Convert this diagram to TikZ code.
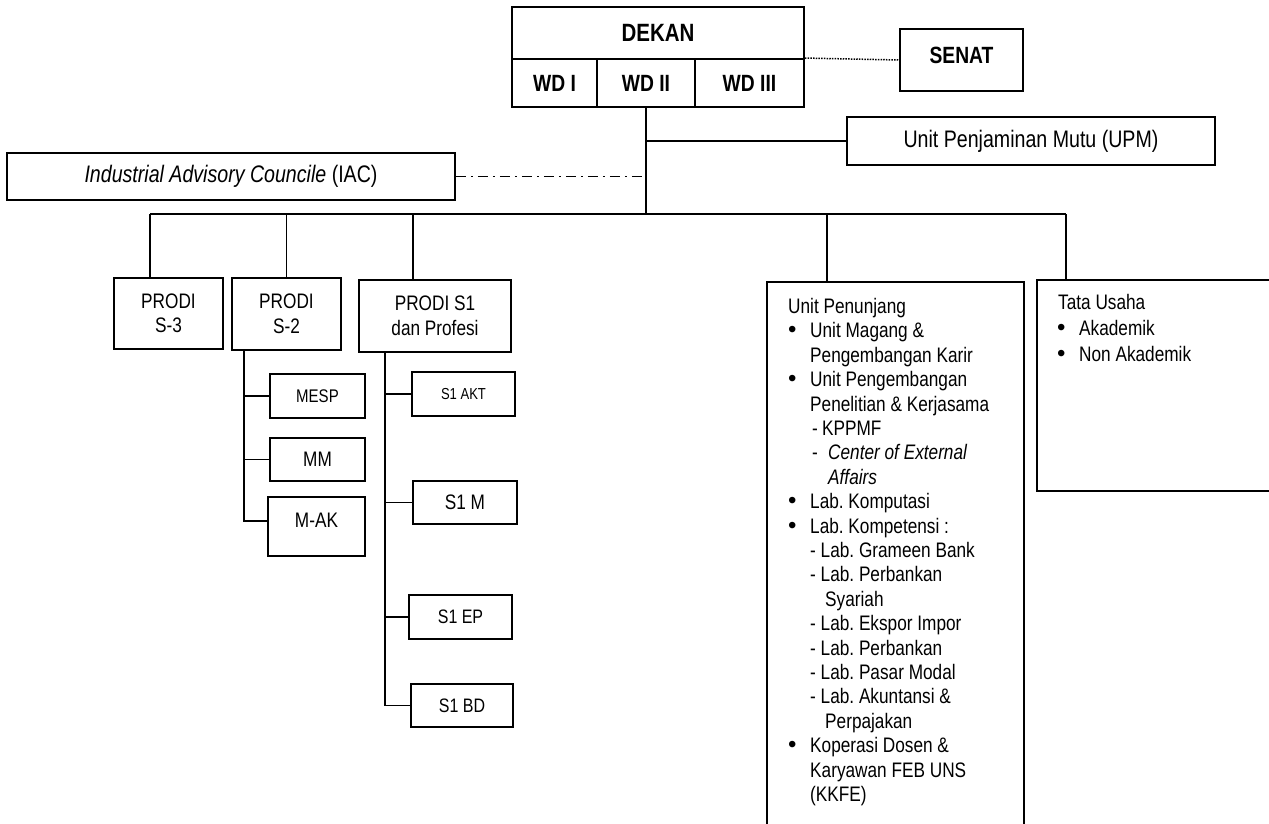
\documentclass[tikz,border=0pt]{standalone}
\usepackage{fontspec}
\setmainfont{Liberation Sans}[FakeStretch=0.82]
\newfontfamily\bulfont{Liberation Sans}
\newcommand\bulglyph{{\bulfont\fontsize{24}{24}\selectfont\textbullet}}
\newcommand\upbul{\makebox[22pt][l]{\hspace*{0pt}\bulglyph}}
\newcommand\upind{\hspace*{22pt}}
\newcommand\tubul{\makebox[21pt][l]{\hspace*{-1pt}\bulglyph}}
\frenchspacing
\begin{document}
\begin{tikzpicture}[x=1pt,y=-1pt,
  box/.style={draw, line width=1.9pt, inner sep=0pt, align=center},
  conn/.style={draw, line width=1.9pt},
  dotline/.style={draw, line width=1.5pt, dash pattern=on 1.5pt off 1.2pt},
  dashdotline/.style={draw, line width=1.9pt, dash pattern=on 10pt off 5pt on 2pt off 5pt},
  boldtxt/.style={font=\bfseries\fontsize{23.5}{26}\selectfont},
  bigtxt/.style={font=\fontsize{23.9}{26}\selectfont},
  midtxt/.style={font=\fontsize{21}{24.5}\selectfont}]
\useasboundingbox (0,0) rectangle (1269,823);
\fill[white] (0,0) rectangle (1269,823);
\clip (0,0) rectangle (1269,823);

% top block
\node[box, font=\bfseries\fontsize{25}{28}\selectfont, minimum width=292pt, minimum height=52pt] (dekan) at (658,33) {DEKAN};
\node[box, boldtxt, minimum width=85pt, minimum height=48pt] (wd1) at (554.5,83) {WD I};
\node[box, boldtxt, minimum width=98pt, minimum height=48pt] (wd2) at (646,83) {WD II};
\node[box, boldtxt, minimum width=109pt, minimum height=48pt] (wd3) at (749.5,83) {WD III};
\node[box, boldtxt, minimum width=123pt, minimum height=62pt] (senat) at (961.5,60) {\raisebox{5pt}[\height][\depth]{SENAT}};
\node[box, bigtxt, minimum width=368pt, minimum height=48pt] (upm) at (1031,141) {Unit Penjaminan Mutu (UPM)};
\node[box, bigtxt, minimum width=448pt, minimum height=47pt] (iac) at (231,176.5) {\textit{Industrial Advisory Councile} (IAC)};

% prodi
\node[box, midtxt, minimum width=109pt, minimum height=71pt] (s3) at (168.5,313.5) {PRODI\\S-3};
\node[box, midtxt, minimum width=109pt, minimum height=72pt] (s2) at (286.5,314) {PRODI\\S-2};
\node[box, midtxt, minimum width=152pt, minimum height=72pt] (s1) at (435,316) {PRODI S1\\dan Profesi};

\node[box, font=\fontsize{18.3}{21}\selectfont, minimum width=95pt, minimum height=44pt] (mesp) at (317.5,396) {MESP};
\node[box, midtxt, minimum width=95pt, minimum height=43pt] (mm) at (317.5,459.5) {MM};
\node[box, midtxt, minimum width=97pt, minimum height=59pt] (mak) at (316.5,526.5) {\raisebox{6pt}[\height][\depth]{M-AK}};

\node[box, font=\fontsize{15.9}{18}\selectfont, minimum width=103pt, minimum height=44pt] (akt) at (463.5,394) {S1 AKT};
\node[box, midtxt, minimum width=104pt, minimum height=43pt] (s1m) at (465,502.5) {S1 M};
\node[box, font=\fontsize{19.5}{22}\selectfont, minimum width=103pt, minimum height=44pt] (s1ep) at (460.5,617) {S1 EP};
\node[box, font=\fontsize{19.5}{22}\selectfont, minimum width=102pt, minimum height=43pt] (s1bd) at (462,705.5) {S1 BD};

% right boxes (run off the page)
\node[box, anchor=north west, minimum width=257pt, minimum height=620pt] (penunjang) at (766,281) {};
\node[box, anchor=north west, minimum width=264pt, minimum height=211pt] (tata) at (1036,279) {};

\node[anchor=north west, inner sep=0pt, align=left, font=\fontsize{21}{24.4}\selectfont] (penunjangtxt) at (788,298) {%
Unit Penunjang\\
\upbul Unit Magang \&\\
\upind Pengembangan Karir\\
\upbul Unit Pengembangan\\
\upind Penelitian \& Kerjasama\\
\hspace*{24pt}\makebox[10pt][l]{-}KPPMF\\
\hspace*{24pt}\makebox[16pt][l]{-}\textit{Center of External}\\
\hspace*{40pt}\textit{Affairs}\\
\upbul Lab. Komputasi\\
\upbul Lab. Kompetensi :\\
\upind - Lab. Grameen Bank\\
\upind - Lab. Perbankan\\
\hspace*{37pt}Syariah\\
\upind - Lab. Ekspor Impor\\
\upind - Lab. Perbankan\\
\upind - Lab. Pasar Modal\\
\upind - Lab. Akuntansi \&\\
\hspace*{37pt}Perpajakan\\
\upbul Koperasi Dosen \&\\
\upind Karyawan FEB UNS\\
\upind (KKFE)};

\node[anchor=north west, inner sep=0pt, align=left, font=\fontsize{21}{26}\selectfont] (tatatxt) at (1058,294) {%
Tata Usaha\\
\tubul Akademik\\
\tubul Non Akademik};

% coordinates
\coordinate (busL) at (150,214);
\coordinate (busR) at (1066,214);
\coordinate (jbus) at (wd2.south |- busL);
\coordinate (jupm) at (wd2.south |- upm.west);
\coordinate (jiac) at (wd2.south |- iac.east);
\coordinate (d2) at (s2.north |- busL);
\coordinate (d1) at (413,214);
\coordinate (dp) at (827,214);
\coordinate (v2) at (244,350);
\coordinate (v1) at (385,352);

% connectors
\draw[dotline] (wd3.north east) -- (senat.west);
\draw[conn] (wd2.south) -- (jbus);
\draw[conn] (jupm) -- (upm.west);
\draw[dashdotline] (iac.east) -- (jiac);
\draw[conn] (busL) -- (busR);
\draw[conn] (busL) -- (busL |- s3.north);
\draw[conn] (d2) -- (s2.north);
\draw[conn] (d1) -- (d1 |- s1.north);
\draw[conn] (dp) -- (dp |- penunjang.north);
\draw[conn] (busR) -- (busR |- tata.north);

\draw[conn] (v2) |- ([yshift=5.5pt]mak.west);
\draw[conn] (v2 |- mesp.west) -- (mesp.west);
\draw[conn] (v2 |- mm.west) -- (mm.west);

\draw[conn] (v1) |- (s1bd.west);
\draw[conn] (v1 |- akt.west) -- (akt.west);
\draw[conn] (v1 |- s1m.west) -- (s1m.west);
\draw[conn] (v1 |- s1ep.west) -- (s1ep.west);
\end{tikzpicture}
\end{document}
